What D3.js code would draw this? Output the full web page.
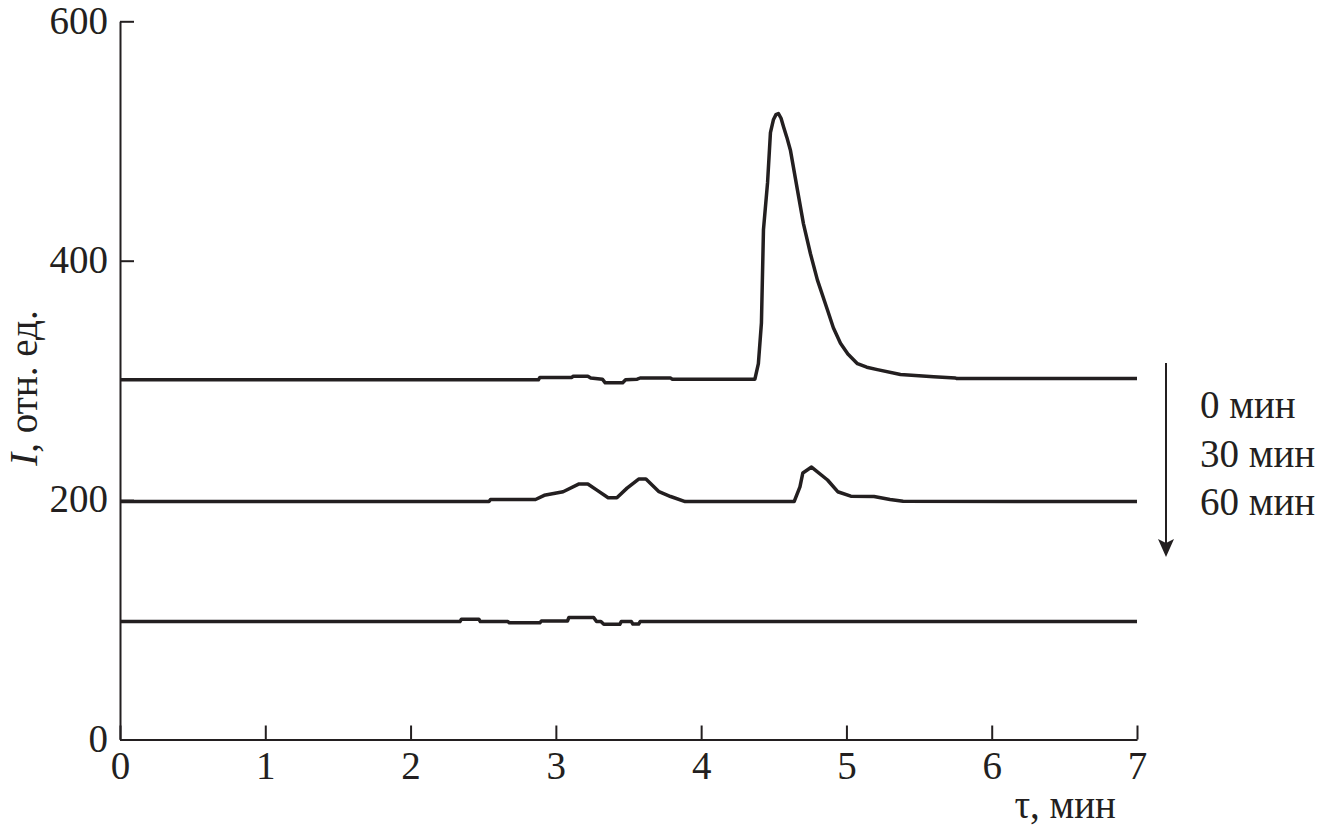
<!DOCTYPE html>
<html>
<head>
<meta charset="utf-8">
<script src="https://cdn.jsdelivr.net/npm/d3@7"></script>
<style>
  body { margin: 0; background: #fff; }
  svg text { font-family: "Liberation Serif", "DejaVu Serif", serif; fill: #231f20; }
</style>
</head>
<body>
<svg id="chart"></svg>
<script>
// chromatogram traces, [tau (min), intensity]
const trace0 = [[0,300.5],[2.88,300.5],[2.89,302.5],[3.11,302.5],[3.12,303.5],[3.22,303.5],[3.24,302],[3.32,301],[3.34,298],[3.46,298],[3.48,300.5],[3.56,301],[3.58,302],[3.79,302],[3.8,301],[4.37,301],[4.394,314],[4.415,348],[4.429,426],[4.457,465],[4.477,507],[4.498,518],[4.515,522],[4.532,523],[4.55,519],[4.567,512],[4.59,503],[4.615,492],[4.663,459],[4.704,431],[4.752,406],[4.8,384],[4.869,359],[4.91,344],[4.959,331],[5.01,322],[5.076,314],[5.14,311],[5.213,309],[5.372,305],[5.6,303],[5.75,302],[5.76,301.5],[7,301.5]];
const trace30 = [[0,198.8],[2.54,198.8],[2.55,200.5],[2.86,200.5],[2.92,204],[3.05,207],[3.16,213.5],[3.22,213.5],[3.28,208.5],[3.36,202],[3.42,202],[3.49,210],[3.57,217.6],[3.62,217.6],[3.71,207],[3.79,203],[3.89,198.8],[4.64,198.8],[4.68,211],[4.7,222.7],[4.76,227.6],[4.87,216.8],[4.94,207],[5.03,203.3],[5.19,203],[5.3,200.5],[5.39,199],[7,198.8]];
const trace60 = [[0,98.5],[2.34,98.5],[2.35,100.5],[2.47,100.5],[2.48,98.5],[2.67,98.5],[2.68,97.5],[2.89,97.5],[2.9,99],[3.08,99],[3.09,102],[3.26,102],[3.28,98.5],[3.31,98.5],[3.33,96.2],[3.44,96.2],[3.45,98.5],[3.52,98.5],[3.53,96.5],[3.57,96.5],[3.58,98.5],[7,98.5]];
const traces = [trace0, trace30, trace60];
const legendLabels = ["0 мин", "30 мин", "60 мин"];
const xTicks = [0, 1, 2, 3, 4, 5, 6, 7];
const yTicks = [0, 200, 400, 600];

const svg_size = {width: 1328, height: 835};
const margin = {top: 21.3, right: 191, bottom: 95.5, left: 120};
const w = svg_size.width - margin.left - margin.right;
const h = svg_size.height - margin.top - margin.bottom;
const ink = "#231f20";
const fontSize = "39px";

const svg = d3.select("#chart")
    .attr("width", svg_size.width)
    .attr("height", svg_size.height);
const plot = svg.append("g")
    .attr("transform", `translate(${margin.left},${margin.top})`);

const x = d3.scaleLinear().domain([0, 7]).range([0, w]);
const y = d3.scaleLinear().domain([0, 600]).range([h, 0]);

const xAxis = plot.append("g")
    .attr("transform", `translate(0,${h})`)
    .call(d3.axisBottom(x).tickValues(xTicks).tickFormat(d3.format("d"))
        .tickSizeInner(-14).tickSizeOuter(0).tickPadding(12));
const yAxis = plot.append("g")
    .call(d3.axisLeft(y).tickValues(yTicks).tickFormat(d3.format("d"))
        .tickSizeInner(-14).tickSizeOuter(0).tickPadding(12));

[xAxis, yAxis].forEach(a => {
    a.selectAll("path, line").attr("stroke", ink).attr("stroke-width", 2);
    a.selectAll("text").attr("fill", ink).style("font-size", fontSize);
});
xAxis.selectAll("text").attr("dy", "0.71em");
yAxis.selectAll("text").attr("dy", "0.3em");

const line = d3.line()
    .x(d => x(d[0]))
    .y(d => y(d[1]));

plot.selectAll(".trace")
    .data(traces)
    .enter()
    .append("path")
    .attr("class", "trace")
    .attr("fill", "none")
    .attr("stroke", ink)
    .attr("stroke-width", 3.5)
    .attr("stroke-linejoin", "round")
    .attr("d", line);

// axis titles
svg.append("text")
    .attr("x", 1116)
    .attr("y", 818)
    .attr("text-anchor", "end")
    .style("font-size", fontSize)
    .text("τ, мин");

const ylab = svg.append("text")
    .attr("transform", "translate(37,388) rotate(-90)")
    .attr("text-anchor", "middle")
    .style("font-size", fontSize);
ylab.append("tspan").style("font-style", "italic").text("I");
ylab.append("tspan").text(", отн. ед.");

// legend with downward arrow
svg.append("line")
    .attr("x1", 1166).attr("y1", 363)
    .attr("x2", 1166).attr("y2", 545)
    .attr("stroke", ink)
    .attr("stroke-width", 2);
svg.append("path")
    .attr("d", "M1158,539 L1166,543 L1174,539 L1166,557 Z")
    .attr("fill", ink);

svg.selectAll(".legend")
    .data(legendLabels)
    .enter()
    .append("text")
    .attr("class", "legend")
    .attr("x", 1200)
    .attr("y", (d, i) => 418 + i * 48.5)
    .style("font-size", fontSize)
    .text(d => d);
</script>
</body>
</html>
